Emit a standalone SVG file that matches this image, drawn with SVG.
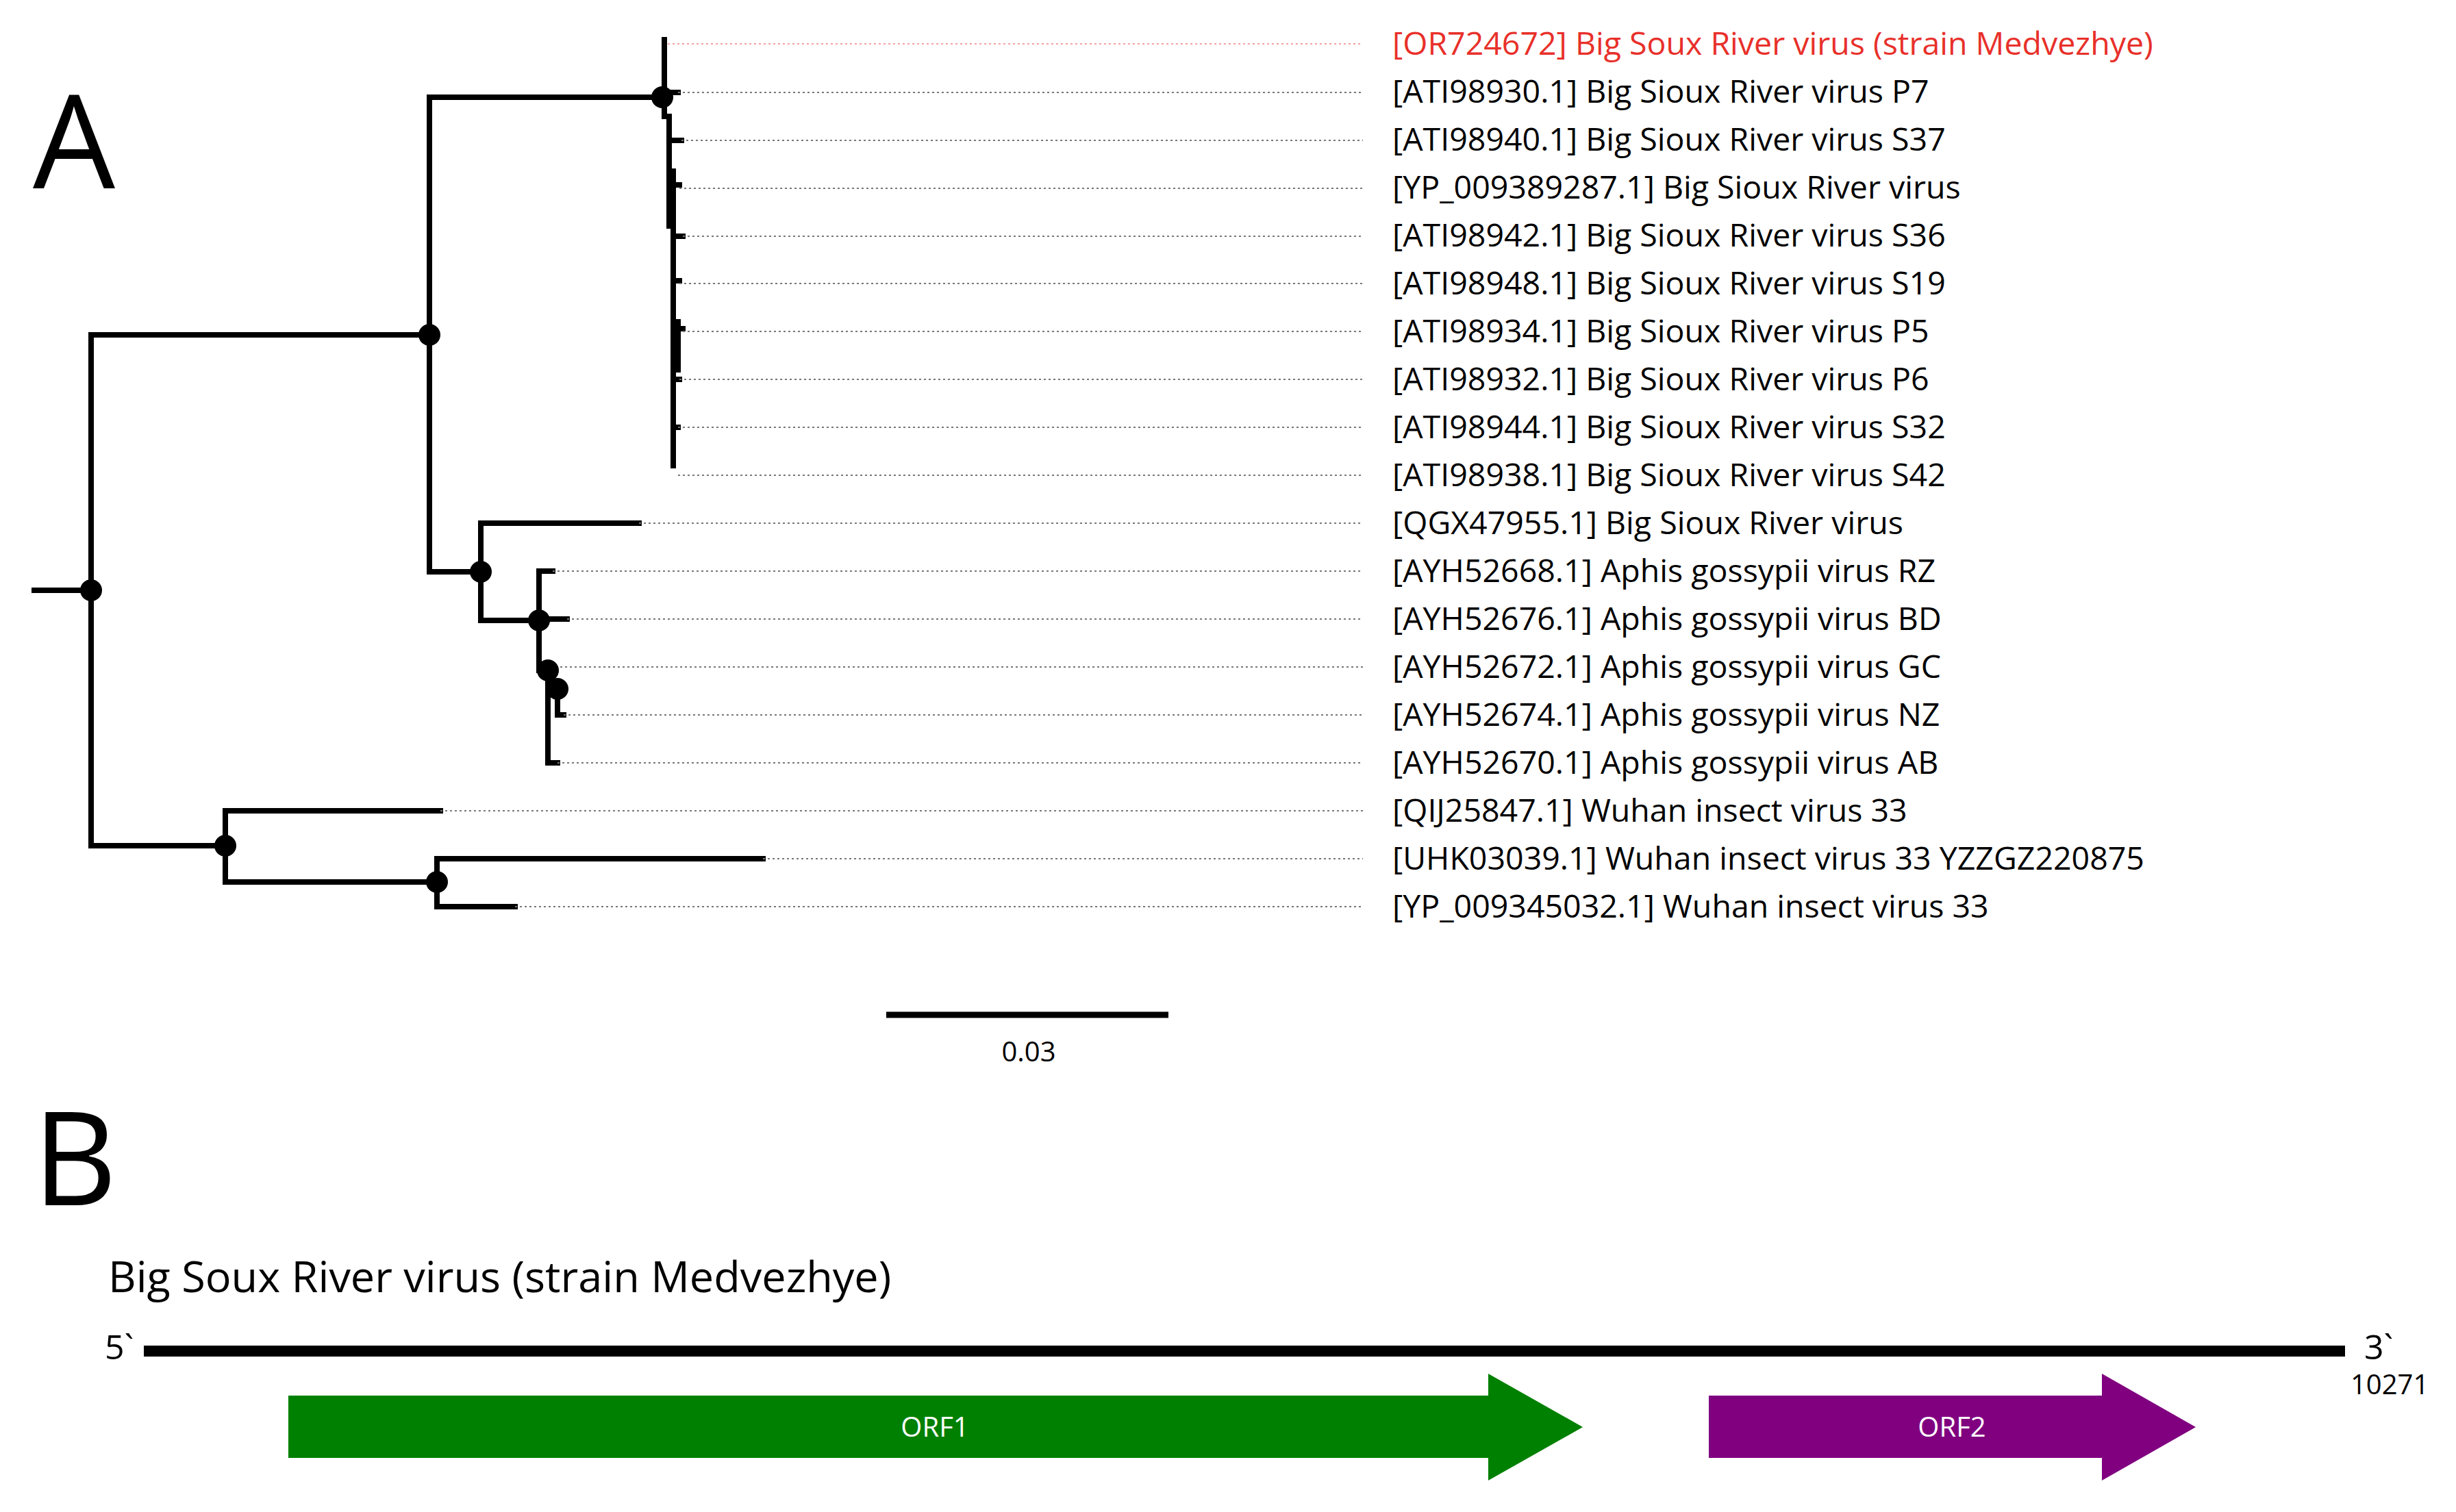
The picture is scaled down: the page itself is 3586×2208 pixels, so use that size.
<svg xmlns="http://www.w3.org/2000/svg" width="3586" height="2208" viewBox="0 0 3586 2208">
<style>
.br{stroke:#000;stroke-width:8;fill:none;stroke-linecap:square}
.dot{stroke:#777;stroke-width:2;stroke-dasharray:3 4}
.dotr{stroke:#f4a0a0;stroke-width:2;stroke-dasharray:3 4}
.lb{font-family:"Open Sans",sans-serif;font-size:46.5px;fill:#000}
.nd{fill:#000}
</style>
<rect width="3586" height="2208" fill="#fff"/>
<text x="48" y="275" font-family="Open Sans,sans-serif" font-size="190" fill="#000">A</text>
<g id="connectors">
<path class="br" d="M50 862H133M133 489V1235M133 489H627M133 1235H329M627 142V835M627 142H967M627 835H702"/>
<path class="br" d="M970 58V170M970 135H990M977 170V330M977 205H995M983 250V680M983 270H992M983 345H997M983 410H992M983 480H997M990 470V540M983 554H992M983 624H990"/>
<path class="br" d="M702 764V906M702 764H933M702 906H787M787 834V979M787 834H807M787 904H828M787 979H800M800 979V1114M800 1114H814M814 1006V1044M814 1044H823"/>
<path class="br" d="M329 1184V1288M329 1184H643M329 1288H638M638 1254V1324M638 1254H1114M638 1324H752"/>
<path class="dotr" d="M975 64H1990"/>
<path class="dot" d="M990 135H1990M995 205H1990M992 275H1990M997 345H1990M992 414H1990M997 484H1990M992 554H1990M990 624H1990M990 694H1990M933 764H1990M807 834H1990M828 904H1990M818 974H1990M823 1044H1990M814 1114H1990M643 1184H1990M1114 1254H1990M752 1324H1990"/>
</g>
<g id="nodes">
<circle class="nd" cx="133" cy="862" r="16"/>
<circle class="nd" cx="627" cy="489" r="16"/>
<circle class="nd" cx="967" cy="142" r="16"/>
<circle class="nd" cx="702" cy="835" r="16"/>
<circle class="nd" cx="787" cy="906" r="16"/>
<circle class="nd" cx="800" cy="979" r="16"/>
<circle class="nd" cx="814" cy="1006" r="16"/>
<circle class="nd" cx="329" cy="1235" r="16"/>
<circle class="nd" cx="638" cy="1288" r="16"/>
</g>
<g id="labels" class="lb">
<text x="2033" y="80" fill="#e8302a">[OR724672] Big Soux River virus (strain Medvezhye)</text>
<text x="2033" y="150">[ATI98930.1] Big Sioux River virus P7</text>
<text x="2033" y="220">[ATI98940.1] Big Sioux River virus S37</text>
<text x="2033" y="290">[YP_009389287.1] Big Sioux River virus</text>
<text x="2033" y="360">[ATI98942.1] Big Sioux River virus S36</text>
<text x="2033" y="430">[ATI98948.1] Big Sioux River virus S19</text>
<text x="2033" y="500">[ATI98934.1] Big Sioux River virus P5</text>
<text x="2033" y="570">[ATI98932.1] Big Sioux River virus P6</text>
<text x="2033" y="640">[ATI98944.1] Big Sioux River virus S32</text>
<text x="2033" y="710">[ATI98938.1] Big Sioux River virus S42</text>
<text x="2033" y="780">[QGX47955.1] Big Sioux River virus</text>
<text x="2033" y="850">[AYH52668.1] Aphis gossypii virus RZ</text>
<text x="2033" y="920">[AYH52676.1] Aphis gossypii virus BD</text>
<text x="2033" y="990">[AYH52672.1] Aphis gossypii virus GC</text>
<text x="2033" y="1060">[AYH52674.1] Aphis gossypii virus NZ</text>
<text x="2033" y="1130">[AYH52670.1] Aphis gossypii virus AB</text>
<text x="2033" y="1200">[QIJ25847.1] Wuhan insect virus 33</text>
<text x="2033" y="1270">[UHK03039.1] Wuhan insect virus 33 YZZGZ220875</text>
<text x="2033" y="1340">[YP_009345032.1] Wuhan insect virus 33</text>
</g>
<g id="scalebar">
<line x1="1294" y1="1482" x2="1706" y2="1482" stroke="#000" stroke-width="9"/>
<text x="1502" y="1550" font-family="Open Sans,sans-serif" font-size="40" text-anchor="middle">0.03</text>
</g>
<text x="48" y="1760" font-family="Open Sans,sans-serif" font-size="190" fill="#000">B</text>
<g id="genome">
<text x="158" y="1887" font-family="Open Sans,sans-serif" font-size="63">Big Soux River virus (strain Medvezhye)</text>
<line x1="210" y1="1973" x2="3424" y2="1973" stroke="#000" stroke-width="16"/>
<text x="153" y="1985" font-family="Open Sans,sans-serif" font-size="50">5`</text>
<text x="3452" y="1985" font-family="Open Sans,sans-serif" font-size="50">3`</text>
<text x="3432" y="2036" font-family="Open Sans,sans-serif" font-size="40">10271</text>
</g>
<g id="orf1">
<polygon points="421,2038 2173,2038 2173,2006 2311,2084 2173,2162 2173,2129 421,2129" fill="#008000"/>
<text x="1365" y="2098" font-family="Open Sans,sans-serif" font-size="40" fill="#fff" text-anchor="middle">ORF1</text>
</g>
<g id="orf2">
<polygon points="2495,2038 3069,2038 3069,2006 3206,2084 3069,2162 3069,2129 2495,2129" fill="#800080"/>
<text x="2850" y="2098" font-family="Open Sans,sans-serif" font-size="40" fill="#fff" text-anchor="middle">ORF2</text>
</g>
</svg>
